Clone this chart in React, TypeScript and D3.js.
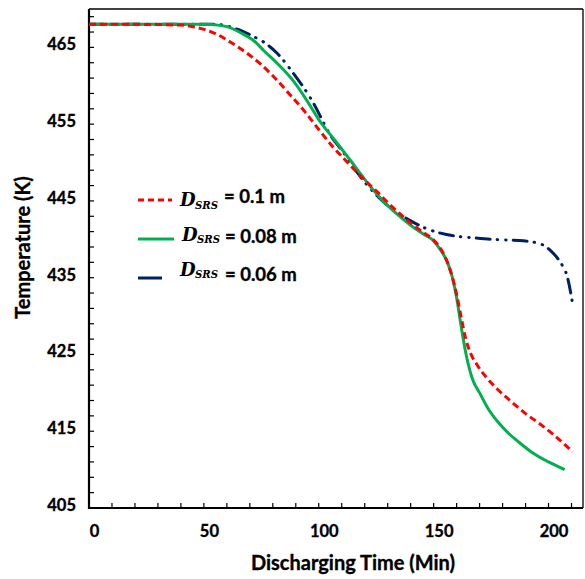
import React from "react";
import * as d3 from "d3";

const W = 585, H = 579;
const M = { left: 89, right: 583, top: 9, bottom: 508 };

const xTicks = [0, 50, 100, 150, 200];
const yTicks = [405, 415, 425, 435, 445, 455, 465];

const redT = [0, 20, 40, 45, 55, 62, 68, 74, 80, 87, 94, 100, 106, 111, 119, 125, 130, 135, 140, 145, 150, 153, 156, 158, 160, 162, 164, 166, 169, 173, 178, 184, 190, 196, 202, 210.5];
const redV = [468, 468, 467.9, 467.7, 466.8, 465.6, 464.4, 463, 461.3, 459, 456.6, 454.3, 452.1, 450.5, 448, 446.3, 444.8, 443.4, 442.1, 441, 439.9, 438.8, 437, 435.2, 432.8, 429.8, 427, 425.2, 423.6, 422, 420.4, 418.8, 417.3, 416, 414.6, 412.3];

const greenT = [0, 20, 40, 50, 56, 60, 66, 72, 76, 82, 89, 95, 100, 107, 114, 120, 127, 134, 141, 146, 150, 153, 156, 158, 160, 162, 164, 167, 170, 174, 178, 182, 187, 193, 200, 207];
const greenV = [468, 468, 468, 468, 467.9, 467.7, 466.9, 465.8, 464.6, 462.9, 460.6, 458, 455.6, 452.9, 450.2, 447.8, 445.3, 443.3, 441.6, 440.6, 439.8, 438.6, 437, 435.2, 432.4, 428.6, 425.2, 421.7, 420, 417.8, 416.2, 414.9, 413.6, 412.2, 411, 410];

const blueT = [0, 20, 40, 55, 60, 63, 66, 71, 76, 82, 89, 97, 105, 111, 118, 126, 133, 140, 146, 153, 160, 167, 175, 183, 189, 194, 198, 201, 204, 206, 208, 210.5];
const blueV = [468, 468, 468, 468, 467.8, 467.5, 467.2, 466.5, 465.7, 464.2, 461.6, 458.1, 453.6, 451.2, 448.2, 445.5, 443.7, 442.4, 441.5, 440.8, 440.4, 440.2, 440, 439.9, 439.8, 439.6, 439.2, 438.5, 437.5, 436.6, 435.3, 431.6];

const seriesNames = ["0.1 m", "0.08 m", "0.06 m"];

export default function App() {
  const x = d3.scaleLinear().domain([0, 215]).range([M.left, M.right]);
  const y = d3.scaleLinear().domain([405, 470]).range([M.bottom, M.top]);
  const line = d3.line<[number, number]>().x(d => x(d[0])).y(d => y(d[1])).curve(d3.curveMonotoneX);
  const mk = (t: number[], v: number[]) => line(t.map((tt, i) => [tt, v[i]] as [number, number])) || "";

  const xMinor = d3.range(0, 216, 10);
  const yMinor = d3.range(405, 470.1, 2);
  const font = "Lato, 'Open Sans', sans-serif";
  const bold = { fontWeight: "bold" as const, stroke: "#000", strokeWidth: 0.35 };

  const legend = [
    { y: 200, color: "#FF0000", dash: "6,4", x2: 172, dx: 180, dy: 206, sy: 209, tx: 224, ty: 203 },
    { y: 239, color: "#00B050", dash: "", x2: 174, dx: 182, dy: 241, sy: 243, tx: 225, ty: 243 },
    { y: 278, color: "#002060", dash: "", x2: 162, dx: 180, dy: 276, sy: 278, tx: 225, ty: 281 },
  ];

  return (
    <svg width={W} height={H} style={{ position: "absolute", left: 0, top: 0 }} fontFamily={font}>
      <rect x={0} y={0} width={W} height={H} fill="#fff" />
      {xMinor.map(t => (
        <line key={"xm" + t} x1={x(t)} x2={x(t)} y1={M.bottom} y2={M.bottom - 5} stroke="#000" strokeWidth={1.2} />
      ))}
      {yMinor.map(t => (
        <line key={"ym" + t} x1={M.left} x2={M.left + 5} y1={y(t)} y2={y(t)} stroke="#000" strokeWidth={1.2} />
      ))}
      <line x1={M.left} x2={M.right} y1={M.top} y2={M.top} stroke="#000" strokeWidth={1.3} />
      <line x1={M.right} x2={M.right} y1={M.top} y2={M.bottom} stroke="#000" strokeWidth={1.3} />
      <line x1={M.left} x2={M.left} y1={M.top} y2={M.bottom + 1} stroke="#000" strokeWidth={2.2} />
      <line x1={M.left - 1} x2={M.right} y1={M.bottom} y2={M.bottom} stroke="#000" strokeWidth={2.2} />
      {xTicks.map(t => (
        <text key={"xt" + t} x={x(t) + 5.5} y={537} textAnchor="middle" fontSize={16.5} {...bold}>{t}</text>
      ))}
      {yTicks.map(t => (
        <text key={"yt" + t} x={76} y={y(t) + 3} textAnchor="end" fontSize={16.5} {...bold}>{t}</text>
      ))}
      <text x={353} y={570} textAnchor="middle" fontSize={20} {...bold}>Discharging Time (Min)</text>
      <text transform={`translate(30,247.5) rotate(-90)`} textAnchor="middle" fontSize={20} {...bold}>Temperature (K)</text>

      <clipPath id="pc"><rect x={M.left} y={M.top} width={M.right - M.left} height={M.bottom - M.top} /></clipPath>
      <g clipPath="url(#pc)">
        <path d={mk(blueT, blueV)} fill="none" stroke="#002060" strokeWidth={3} strokeDasharray="14,7,0.5,8,0.5,7" strokeLinecap="round" />
        <path d={mk(greenT, greenV)} fill="none" stroke="#00B050" strokeWidth={3} />
        <path d={mk(redT, redV)} fill="none" stroke="#FF0000" strokeWidth={3} strokeDasharray="7,4" />
      </g>

      {legend.map((l, i) => (
        <g key={"lg" + i}>
          <line x1={138} x2={l.x2} y1={l.y} y2={l.y} stroke={l.color} strokeWidth={3} strokeDasharray={l.dash || undefined} />
          <text x={l.dx} y={l.dy} fontSize={18} fontFamily="'DejaVu Serif', serif" fontStyle="italic" fontWeight="bold">D</text>
          <text x={l.dx + 15} y={l.sy} fontSize={11.5} fontFamily="'DejaVu Serif', serif" fontStyle="italic" fontWeight="bold" textLength={23} lengthAdjust="spacingAndGlyphs">SRS</text>
          <text x={l.tx} y={l.ty} fontSize={18.5} {...bold}>= {seriesNames[i]}</text>
        </g>
      ))}
    </svg>
  );
}
